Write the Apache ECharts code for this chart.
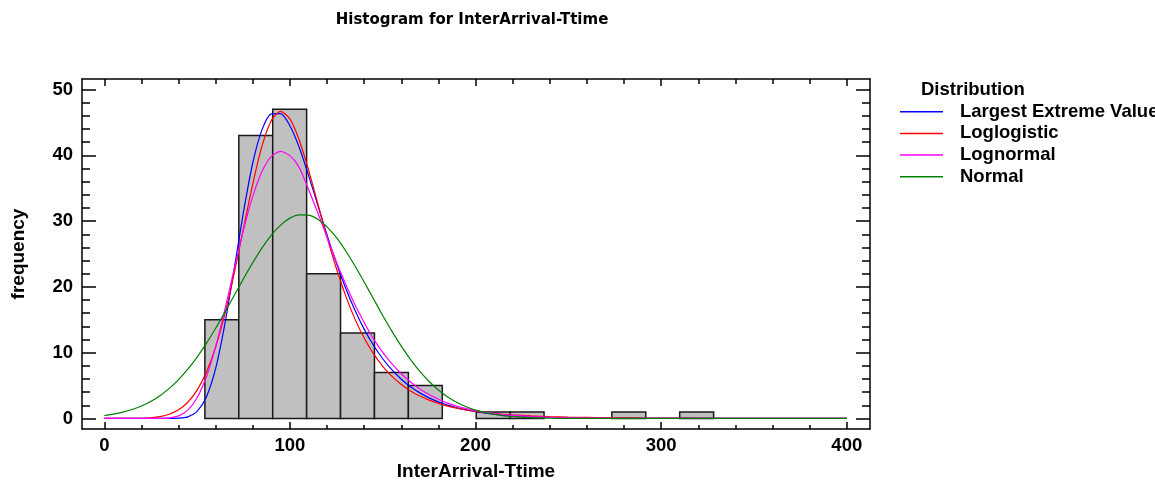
<!DOCTYPE html>
<html><head><meta charset="utf-8">
<script src="https://cdn.jsdelivr.net/npm/echarts@6/dist/echarts.min.js"></script>
<style>html,body{margin:0;padding:0;background:#fff}#c{width:1155px;height:481px}</style>
</head><body><div id="c"></div>
<script>
const chartTitle = 'Histogram for InterArrival-Ttime';
const xName = 'InterArrival-Ttime';
const yName = 'frequency';
const legendTitle = 'Distribution';
const binEdges = [54.2, 72.47, 90.74, 109.01, 127.28, 145.55, 163.82, 182.09, 200.36, 218.63, 236.9, 255.17, 273.44, 291.71, 309.98, 328.25];
const counts = [15, 43, 47, 22, 13, 7, 5, 0, 1, 1, 0, 0, 1, 0, 1];
const xTicks = [0, 100, 200, 300, 400];
const xMinorTicks = [20, 40, 60, 80, 120, 140, 160, 180, 220, 240, 260, 280, 320, 340, 360, 380];
const yTicks = [0, 10, 20, 30, 40, 50];
const yMinorTicks = [2, 4, 6, 8, 12, 14, 16, 18, 22, 24, 26, 28, 32, 34, 36, 38, 42, 44, 46, 48];
const curveX = [0,5,10,15,20,25,30,35,40,45,50,55,60,65,70,75,80,85,90,95,100,105,110,115,120,125,130,135,140,145,150,155,160,165,170,175,180,185,190,195,200,210,220,230,240,250,260,270,280,290,300,310,320,330,340,350,360,370,380,390,400];
const largestExtreme = [0,0,0,0,0,0,0,0.004,0.04,0.25,1.08,3.28,7.61,14.42,22.75,31.39,38.87,43.9,46.3,46.35,44.5,41.23,36.98,32.44,27.89,23.67,19.84,16.48,13.58,11.13,9.08,7.38,5.97,4.82,3.89,3.13,2.52,2.02,1.62,1.30,1.04,0.67,0.43,0.27,0.18,0.11,0.072,0.046,0.030,0.019,0.012,0.008,0.005,0.003,0.002,0.001,0.001,0,0,0,0];
const loglogistic = [0,0,0.001,0.007,0.032,0.107,0.284,0.648,1.32,2.47,4.30,7.03,10.87,15.91,22.05,28.89,35.66,41.44,45.30,46.68,45.54,42.34,37.80,32.68,27.56,22.83,18.67,15.14,12.22,9.85,7.93,6.40,5.17,4.19,3.41,2.79,2.29,1.88,1.56,1.29,1.08,0.755,0.539,0.390,0.285,0.212,0.159,0.120,0.092,0.071,0.0555,0.044,0.0345,0.0275,0.022,0.0178,0.0145,0.0118,0.0097,0.008,0.0067];
const lognormal = [0,0,0,0,0,0.001,0.011,0.083,0.391,1.27,3.14,6.35,10.93,16.59,22.73,28.67,33.76,37.58,39.85,40.59,39.95,38.17,34.85,31.28,27.53,23.83,20.44,17.31,14.58,12.09,10.05,8.30,6.80,5.54,4.49,3.63,2.92,2.33,1.86,1.49,1.18,0.74,0.46,0.29,0.18,0.11,0.07,0.042,0.026,0.016,0.010,0.006,0.004,0.003,0.002,0.001,0.001,0,0,0,0];
const normal = [0.45,0.67,0.96,1.36,1.89,2.59,3.47,4.57,5.91,7.50,9.34,11.42,13.71,16.16,18.70,21.24,23.68,25.93,27.86,29.39,30.45,30.95,30.90,30.28,29.12,27.51,25.50,23.21,20.74,18.19,15.66,13.24,10.99,8.95,7.16,5.62,4.33,3.28,2.44,1.78,1.27,0.62,0.28,0.12,0.045,0.016,0.005,0.001,0,0,0,0,0,0,0,0,0,0,0,0,0];
const seriesNames = ['Largest Extreme Value', 'Loglogistic', 'Lognormal', 'Normal'];
const seriesColors = ['#0000FF', '#FF0000', '#FF00FF', '#008000'];
const curves = [largestExtreme, loglogistic, lognormal, normal];

const FONT = 'Liberation Sans, Arial, sans-serif';
const histData = counts.map((c, i) => [binEdges[i], binEdges[i + 1], c]);
const XMIN = -12, XMAX = 412.5, YMIN = -1.6, YMAX = 51.6;
const lineW = 1.5;

function xAx(pos, ticks, len, showLine, showLabel) {
  return {
    type: 'value', position: pos, min: XMIN, max: XMAX, gridIndex: 0,
    splitLine: { show: false },
    axisLine: { show: showLine, onZero: false, lineStyle: { color: '#000', width: lineW } },
    axisTick: { show: true, inside: true, length: len, customValues: ticks, lineStyle: { color: '#000', width: lineW } },
    axisLabel: showLabel ? { show: true, customValues: ticks, margin: 7, color: '#000', fontFamily: FONT, fontWeight: 'bold', fontSize: 18.5 } : { show: false }
  };
}
function yAx(pos, ticks, len, showLine, showLabel) {
  return {
    type: 'value', position: pos, min: YMIN, max: YMAX, gridIndex: 0,
    splitLine: { show: false },
    axisLine: { show: showLine, onZero: false, lineStyle: { color: '#000', width: lineW } },
    axisTick: { show: true, inside: true, length: len, customValues: ticks, lineStyle: { color: '#000', width: lineW } },
    axisLabel: showLabel ? { show: true, customValues: ticks, margin: 9, color: '#000', fontFamily: FONT, fontWeight: 'bold', fontSize: 18.5 } : { show: false }
  };
}

const nameStyle = { color: '#000', fontFamily: FONT, fontWeight: 'bold', fontSize: 19 };
const xAxes = [
  Object.assign(xAx('bottom', xTicks, 7, true, true), { name: xName, nameLocation: 'middle', nameGap: 33, nameTextStyle: nameStyle }),
  xAx('bottom', xMinorTicks, 4, false, false),
  xAx('top', xTicks, 7, true, false),
  xAx('top', xMinorTicks, 5, false, false)
];
const yAxes = [
  Object.assign(yAx('left', yTicks, 14, true, true), { name: yName, nameLocation: 'middle', nameGap: 54, nameRotate: 90, nameTextStyle: nameStyle }),
  yAx('left', yMinorTicks, 8, false, false),
  yAx('right', yTicks, 14, true, false),
  yAx('right', yMinorTicks, 8, false, false)
];

const series = [{
  type: 'custom', name: 'hist', xAxisIndex: 0, yAxisIndex: 0, z: 1,
  data: histData,
  encode: { x: [0, 1], y: 2 },
  renderItem: function (params, api) {
    const x0 = api.value(0), x1 = api.value(1), c = api.value(2);
    if (!c) return null;
    const p0 = api.coord([x0, c]);
    const p1 = api.coord([x1, 0]);
    return { type: 'rect', shape: { x: p0[0], y: p0[1], width: p1[0] - p0[0], height: p1[1] - p0[1] },
      style: { fill: '#C0C0C0', stroke: '#1a1a1a', lineWidth: 1.5 } };
  }
}];
curves.forEach((arr, k) => {
  series.push({
    type: 'line', name: seriesNames[k], xAxisIndex: 0, yAxisIndex: 0, z: 3,
    data: curveX.map((x, i) => [x, arr[i]]),
    symbol: 'none', smooth: 0.25, color: seriesColors[k],
    lineStyle: { color: seriesColors[k], width: 1.2 }
  });
});

const chart = echarts.init(document.getElementById('c'), null, { renderer: 'canvas' });
chart.setOption({
  animation: false,
  backgroundColor: '#fff',
  grid: { left: 82, right: 285, top: 79, bottom: 52, containLabel: false, outerBoundsMode: 'none' },
  xAxis: xAxes,
  yAxis: yAxes,
  legend: {
    orient: 'vertical', left: 900, top: 101.7, padding: 0, icon: 'rect', itemWidth: 43, itemHeight: 1.5, itemGap: 1.7,
    data: seriesNames,
    textStyle: { color: '#000', fontFamily: FONT, fontWeight: 'bold', fontSize: 18.5, lineHeight: 20, padding: [0, 0, 0, 12] }
  },
  graphic: [
    { type: 'text', x: 472, y: 20, style: { text: chartTitle, font: 'bold 15px "DejaVu Sans", sans-serif', fill: '#000', textAlign: 'center', textVerticalAlign: 'middle' } },
    { type: 'text', x: 921, y: 90, style: { text: legendTitle, font: 'bold 18.5px ' + FONT, fill: '#000', textAlign: 'left', textVerticalAlign: 'middle' } }
  ],
  series: series
});
</script></body></html>
